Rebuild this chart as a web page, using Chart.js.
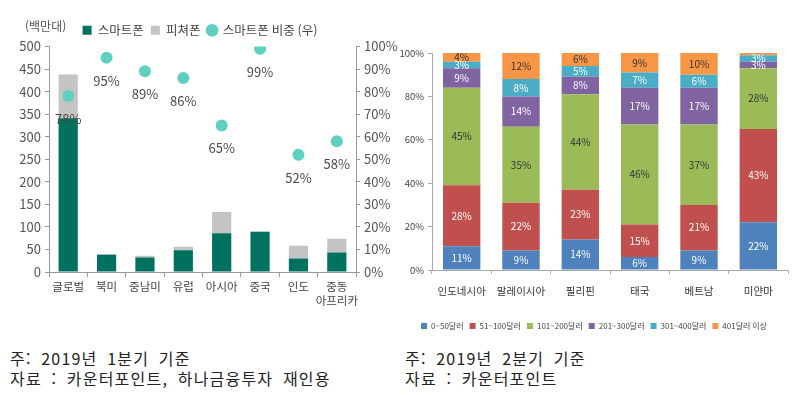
<!DOCTYPE html>
<html lang="ko">
<head>
<meta charset="utf-8">
<script src="https://cdn.jsdelivr.net/npm/chart.js@4.4.1/dist/chart.umd.min.js"></script>
<style>
  body { margin: 0; background: #fff; width: 805px; height: 395px; position: relative; overflow: hidden; font-family: 'Noto Sans CJK KR', sans-serif; }
  #leftChart { position: absolute; left: 0; top: 0; }
  #rightChart { position: absolute; left: 400px; top: 0; }
  .unit { position: absolute; left: 25px; top: 17px; font-size: 12px; color: #555; }
  .note { position: absolute; font-size: 16px; line-height: 20px; color: #222; letter-spacing: 1.2px; word-spacing: 4px; }
</style>
</head>
<body>
<canvas id="leftChart" width="400" height="340"></canvas>
<canvas id="rightChart" width="405" height="340"></canvas>
<div class="unit">(백만대)</div>
<div class="note" style="left:10px; top:348px;">주: 2019년 1분기 기준<br>자료 : 카운터포인트, 하나금융투자 재인용</div>
<div class="note" style="left:405px; top:348px;">주: 2019년 2분기 기준<br>자료 : 카운터포인트</div>
<script>
// 좌측: 지역별 스마트폰/피쳐폰 출하량 (백만대), 스마트폰 비중 (%)
const regions = ['글로벌', '북미', '중남미', '유럽', '아시아', '중국', '인도', ['중동', '아프리카']];
const smartphone = [341, 38, 32, 48, 86, 89, 30, 43];
const featurephone = [97, 2, 4, 8, 47, 1, 28, 31];
const smartShare = [78, 95, 89, 86, 65, 99, 52, 58];

// 우측: 국가별 가격대 비중 (%)
const countries = ['인도네시아', '말레이시아', '필리핀', '태국', '베트남', '미얀마'];
const band0to50 = [11, 9, 14, 6, 9, 22];
const band51to100 = [28, 22, 23, 15, 21, 43];
const band101to200 = [45, 35, 44, 46, 37, 28];
const band201to300 = [9, 14, 8, 17, 17, 3];
const band301to400 = [3, 8, 5, 7, 6, 3];
const band401up = [4, 12, 6, 9, 10, 1];

Chart.defaults.font.family = "'Noto Sans CJK KR', sans-serif";
Chart.defaults.animation = false;

// 스마트폰 비중 라벨 (점 아래)
const shareLabels = {
    id: 'shareLabels',
    afterDatasetsDraw(chart) {
        const ctx = chart.ctx;
        const meta = chart.getDatasetMeta(2);
        ctx.save();
        ctx.font = "13px 'Noto Sans CJK KR', sans-serif";
        ctx.fillStyle = '#4a4a4a';
        ctx.textAlign = 'center';
        ctx.textBaseline = 'middle';
        meta.data.forEach((pt, i) => {
            ctx.fillText(smartShare[i] + '%', pt.x, pt.y + 23);
        });
        ctx.restore();
    }
};

new Chart(document.getElementById('leftChart'), {
    data: {
        labels: regions,
        datasets: [
            {
                type: 'bar',
                label: '스마트폰',
                data: smartphone,
                backgroundColor: '#00705f',
                stack: 's',
                yAxisID: 'y',
                barPercentage: 0.5,
                categoryPercentage: 1,
                order: 0,
                pointStyle: 'rect'
            },
            {
                type: 'bar',
                label: '피쳐폰',
                data: featurephone,
                backgroundColor: '#c4c4c4',
                stack: 's',
                yAxisID: 'y',
                barPercentage: 0.5,
                categoryPercentage: 1,
                order: 0,
                pointStyle: 'rect'
            },
            {
                type: 'line',
                label: '스마트폰 비중 (우)',
                data: smartShare,
                yAxisID: 'y1',
                showLine: false,
                pointRadius: 6,
                pointBackgroundColor: '#5fd0c0',
                backgroundColor: '#5fd0c0',
                borderColor: '#5fd0c0',
                pointBorderWidth: 0,
                pointStyle: 'circle',
                order: -1
            }
        ]
    },
    options: {
        responsive: false,
        layout: { padding: { top: 17, left: 0, right: 0, bottom: 0 } },
        plugins: {
            legend: {
                position: 'top',
                labels: {
                    usePointStyle: true,
                    boxWidth: 9,
                    boxHeight: 9,
                    padding: 7,
                    color: '#444',
                    font: { size: 12.5 },
                    sort: (a, b) => a.datasetIndex - b.datasetIndex
                }
            },
            tooltip: { enabled: false }
        },
        scales: {
            x: {
                stacked: true,
                grid: { display: true, drawOnChartArea: false, tickLength: 5, color: '#999' },
                border: { color: '#999' },
                ticks: { color: '#444', font: { size: 11.5 }, padding: 3, maxRotation: 0, autoSkip: false },
                afterFit: s => { s.height = 68; }
            },
            y: {
                stacked: true,
                position: 'left',
                min: 0,
                max: 500,
                ticks: { stepSize: 50, color: '#555', font: { size: 13 }, padding: 4 },
                grid: { display: true, drawOnChartArea: false, tickLength: 4, color: '#999' },
                border: { color: '#999' },
                afterFit: s => { s.width = 49; }
            },
            y1: {
                position: 'right',
                min: 0,
                max: 100,
                ticks: { stepSize: 10, color: '#555', font: { size: 13 }, padding: 4, callback: v => v + '%' },
                grid: { display: true, drawOnChartArea: false, tickLength: 4, color: '#999' },
                border: { color: '#999' },
                afterFit: s => { s.width = 44; }
            }
        }
    },
    plugins: [shareLabels]
});

// 막대 내부 퍼센트 라벨
const segLabels = {
    id: 'segLabels',
    afterDatasetsDraw(chart) {
        const ctx = chart.ctx;
        ctx.save();
        ctx.font = "10px 'Noto Sans CJK KR', sans-serif";
        ctx.textAlign = 'center';
        ctx.textBaseline = 'middle';
        chart.data.datasets.forEach((ds, di) => {
            const meta = chart.getDatasetMeta(di);
            ctx.fillStyle = ds.labelColor;
            meta.data.forEach((bar, i) => {
                const v = ds.data[i];
                if (v < 2) return;
                ctx.fillText(v + '%', bar.x, (bar.y + bar.base) / 2);
            });
        });
        ctx.restore();
    }
};

const bandSet = (label, data, color, labelColor) => ({
    label: label,
    data: data,
    backgroundColor: color,
    labelColor: labelColor,
    barPercentage: 0.63,
    categoryPercentage: 1
});

new Chart(document.getElementById('rightChart'), {
    type: 'bar',
    data: {
        labels: countries,
        datasets: [
            bandSet('0~50달러', band0to50, '#4f81bd', '#fff'),
            bandSet('51~100달러', band51to100, '#c0504d', '#fff'),
            bandSet('101~200달러', band101to200, '#9bbb59', '#333'),
            bandSet('201~300달러', band201to300, '#8064a2', '#fff'),
            bandSet('301~400달러', band301to400, '#4bacc6', '#fff'),
            bandSet('401달러 이상', band401up, '#f79646', '#333')
        ]
    },
    options: {
        responsive: false,
        layout: { padding: { top: 53, left: 0, right: 17, bottom: 0 } },
        plugins: {
            legend: {
                position: 'bottom',
                labels: {
                    boxWidth: 6,
                    boxHeight: 6,
                    padding: 6,
                    color: '#444',
                    font: { size: 8 }
                }
            },
            tooltip: { enabled: false }
        },
        scales: {
            x: {
                stacked: true,
                grid: { display: true, drawOnChartArea: false, tickLength: 4, color: '#aaa' },
                border: { color: '#aaa' },
                ticks: { color: '#333', font: { size: 10.5 }, padding: 11, maxRotation: 0, autoSkip: false },
                afterFit: s => { s.height = 46; }
            },
            y: {
                stacked: true,
                min: 0,
                max: 100,
                ticks: { stepSize: 20, color: '#444', font: { size: 9.5 }, padding: 4, callback: v => v + '%' },
                grid: { display: true, drawOnChartArea: false, tickLength: 4, color: '#aaa' },
                border: { color: '#aaa' },
                afterFit: s => { s.width = 32; }
            }
        }
    },
    plugins: [segLabels]
});
</script>
</body>
</html>
